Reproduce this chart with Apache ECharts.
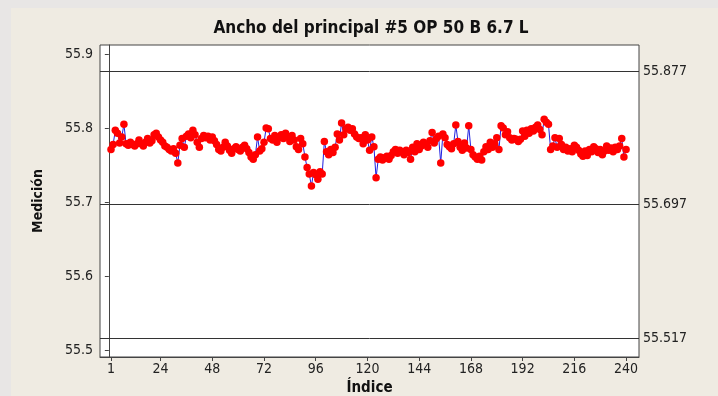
<!DOCTYPE html>
<html>
<head>
<meta charset="utf-8">
<script src="https://cdn.jsdelivr.net/npm/echarts@6/dist/echarts.min.js"></script>
<style>
  html, body { margin: 0; padding: 0; background: #e8e6e5; }
  #panel { position: absolute; left: 11px; top: 8px; right: 0; bottom: 0; background: #efebe2; }
  #chart { position: absolute; left: 0; top: 0; width: 718px; height: 396px; }
</style>
</head>
<body>
<div id="panel"></div>
<div id="chart"></div>
<script>
const seg1 = [55.771, 55.778, 55.797, 55.793, 55.780, 55.788, 55.805, 55.779, 55.777, 55.781, 55.778, 55.776,
              55.779, 55.784, 55.779, 55.776, 55.781, 55.786, 55.780, 55.783, 55.791, 55.793, 55.788, 55.784];
const seg2 = [55.781, 55.776, 55.774, 55.771, 55.769, 55.772, 55.766, 55.753, 55.777, 55.786, 55.774, 55.789,
              55.792, 55.787, 55.797, 55.791, 55.781, 55.774, 55.786, 55.790, 55.787, 55.789, 55.784, 55.788];
const seg3 = [55.783, 55.778, 55.771, 55.769, 55.774, 55.781, 55.776, 55.770, 55.766, 55.772, 55.775, 55.771,
              55.769, 55.774, 55.777, 55.772, 55.767, 55.761, 55.758, 55.764, 55.788, 55.769, 55.772, 55.781];
const seg4 = [55.800, 55.799, 55.786, 55.784, 55.790, 55.781, 55.787, 55.791, 55.786, 55.793, 55.788, 55.782,
              55.790, 55.784, 55.775, 55.771, 55.786, 55.779, 55.761, 55.747, 55.738, 55.722, 55.740, 55.737];
const seg5 = [55.731, 55.741, 55.738, 55.782, 55.768, 55.764, 55.771, 55.767, 55.774, 55.792, 55.784, 55.807,
              55.791, 55.799, 55.801, 55.797, 55.799, 55.792, 55.788, 55.786, 55.787, 55.779, 55.791, 55.784];
const seg6 = [55.770, 55.788, 55.775, 55.733, 55.758, 55.761, 55.757, 55.760, 55.762, 55.758, 55.763, 55.768,
              55.771, 55.766, 55.770, 55.768, 55.764, 55.770, 55.767, 55.758, 55.774, 55.768, 55.779, 55.771];
const seg7 = [55.776, 55.781, 55.778, 55.774, 55.783, 55.794, 55.780, 55.786, 55.789, 55.753, 55.792, 55.787,
              55.778, 55.775, 55.772, 55.779, 55.804, 55.782, 55.774, 55.770, 55.780, 55.773, 55.803, 55.771];
const seg8 = [55.764, 55.761, 55.758, 55.762, 55.757, 55.768, 55.775, 55.771, 55.781, 55.774, 55.779, 55.787,
              55.771, 55.803, 55.800, 55.791, 55.795, 55.787, 55.784, 55.786, 55.785, 55.782, 55.785, 55.796];
const seg9 = [55.789, 55.797, 55.793, 55.799, 55.796, 55.801, 55.804, 55.798, 55.791, 55.812, 55.808, 55.805,
              55.771, 55.776, 55.787, 55.774, 55.786, 55.778, 55.771, 55.774, 55.769, 55.772, 55.768, 55.777];
const seg10 = [55.774, 55.770, 55.765, 55.762, 55.769, 55.763, 55.771, 55.768, 55.775, 55.772, 55.767, 55.771,
               55.764, 55.769, 55.776, 55.770, 55.773, 55.768, 55.774, 55.771, 55.776, 55.786, 55.761, 55.771];

const refLines = [55.877, 55.697, 55.517];
const xTicks = [1, 24, 48, 72, 96, 120, 144, 168, 192, 216, 240];
const yTicks = [55.5, 55.6, 55.7, 55.8, 55.9];

const values = [].concat(seg1, seg2, seg3, seg4, seg5, seg6, seg7, seg8, seg9, seg10);
const points = values.map((v, i) => [i + 1, v]);

const font = '"DejaVu Sans Condensed", "Liberation Sans Narrow", "DejaVu Sans", sans-serif';

const chart = echarts.init(document.getElementById('chart'));
chart.setOption({
    animation: false,
    backgroundColor: 'transparent',
    textStyle: { fontFamily: font },
    title: {
        text: 'Ancho del principal #5 OP 50 B 6.7 L',
        left: 366,
        top: 15,
        textAlign: 'center',
        textStyle: { fontFamily: font, fontSize: 17, fontWeight: 'bold', color: '#111' }
    },
    grid: {
        left: 100, right: 79, top: 45, bottom: 39,
        outerBoundsMode: 'none',
        show: true, backgroundColor: '#ffffff', borderColor: '#444', borderWidth: 1
    },
    xAxis: {
        type: 'value',
        min: -4.1,
        max: 246,
        name: 'Índice',
        nameLocation: 'middle',
        nameGap: 22,
        nameTextStyle: { fontFamily: font, fontSize: 15, fontWeight: 'bold', color: '#111' },
        axisLine: { show: true, lineStyle: { color: '#444' } },
        axisTick: { show: true, inside: false, length: 4, customValues: xTicks, lineStyle: { color: '#444' } },
        axisLabel: { customValues: xTicks, margin: 5, fontSize: 14, color: '#222' },
        splitLine: { show: false }
    },
    yAxis: {
        type: 'value',
        min: 55.4914,
        max: 55.912,
        name: 'Medición',
        nameLocation: 'middle',
        nameGap: 55,
        nameTextStyle: { fontFamily: font, fontSize: 14, fontWeight: 'bold', color: '#111' },
        axisLine: { show: true, lineStyle: { color: '#444' } },
        axisTick: { show: true, inside: false, length: 4, customValues: yTicks, lineStyle: { color: '#444' } },
        axisLabel: {
            customValues: yTicks, margin: 7, fontSize: 14, color: '#222',
            formatter: (v) => v.toFixed(1)
        },
        splitLine: { show: false }
    },
    series: [{
        type: 'line',
        data: points,
        symbol: 'circle',
        symbolSize: 7.5,
        showAllSymbol: true,
        itemStyle: { color: '#ff0000' },
        lineStyle: { color: '#2020e0', width: 1 },
        z: 3,
        markLine: {
            silent: true,
            symbol: 'none',
            precision: 3,
            lineStyle: { color: '#333', width: 1, type: 'solid' },
            label: {
                position: 'end', distance: 4, fontSize: 14, color: '#222',
                formatter: '{b}'
            },
            data: refLines.map((v) => ({ yAxis: v, name: v.toFixed(3) }))
        }
    }]
});
</script>
</body>
</html>
